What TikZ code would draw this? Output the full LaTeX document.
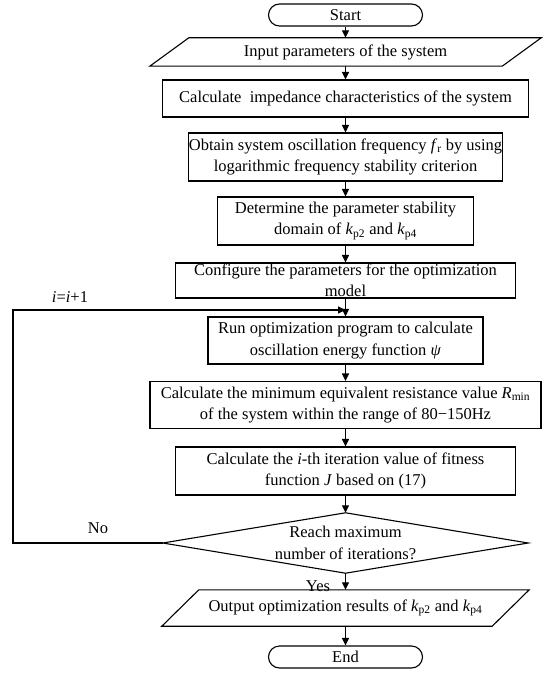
\documentclass[tikz,border=0pt]{standalone}
\usepackage{fontspec}
\setmainfont{Liberation Serif}
\usetikzlibrary{arrows.meta,calc}
\begin{document}
\begin{tikzpicture}[x=1pt,y=1pt,
  every node/.style={font=\fontsize{16.5}{21.5}\selectfont},
  box/.style={draw, line width=1.1pt, inner sep=0pt, align=center},
  ghost/.style={inner sep=0pt, align=center},
  term/.style={box, rounded corners=11pt},
  arr/.style={line width=1.1pt, -{Triangle[length=7.5pt,width=7pt]}},
  lbl/.style={inner sep=0pt},
  outline/.style={line width=1.1pt}]
\useasboundingbox[fill=white] (0,0) rectangle (550,-677);

\node[term, minimum width=154pt, minimum height=22pt] (start) at (345.5,-15) {Start};
\node[ghost, minimum width=352pt, minimum height=28pt] (in) at (345.5,-52) {Input parameters of the system};
\draw[outline] ($(in.south west)+(-19.5,0)$) -- ($(in.north west)+(19.5,0)$) -- ($(in.north east)+(19.5,0)$) -- ($(in.south east)+(-19.5,0)$) -- cycle;
\node[box, minimum width=366pt, minimum height=37pt] (imp) at (345.5,-98.5) {Calculate~ impedance characteristics of the system};
\node[box, minimum width=310pt, minimum height=48pt] (obt) at (345.5,-157) {Obtain system oscillation frequency \textit{f}\textsubscript{r} by using\\logarithmic frequency stability criterion};
\node[box, minimum width=256pt, minimum height=48pt] (det) at (345.5,-221) {Determine the parameter stability\\domain of \textit{k}\textsubscript{p2} and \textit{k}\textsubscript{p4}};
\node[box, minimum width=340pt, minimum height=35pt] (cfg) at (345.5,-280.5) {Configure the parameters for the optimization\\model};
\node[box, minimum width=275pt, minimum height=47pt] (run) at (345.5,-340.5) {Run optimization program to calculate\\oscillation energy function \textit{ψ}};
\node[box, minimum width=391pt, minimum height=47pt] (rmin) at (345.5,-405) {Calculate the minimum equivalent resistance value \textit{R}\textsubscript{min}\\of the system within the range of 80−150Hz};
\node[box, minimum width=340pt, minimum height=48pt] (ith) at (345.5,-471) {Calculate the \textit{i}-th iteration value of fitness\\function \textit{J} based on (17)};
\node[ghost, minimum width=365pt, minimum height=60pt] (dia) at (345.5,-543) {Reach maximum\\number of iterations?};
\draw[outline] (dia.north) -- (dia.east) -- (dia.south) -- (dia.west) -- cycle;
\node[ghost, minimum width=330pt, minimum height=36pt] (out) at (345.5,-608) {Output optimization results of \textit{k}\textsubscript{p2} and \textit{k}\textsubscript{p4}};
\draw[outline] ($(out.south west)+(-18.5,0)$) -- ($(out.north west)+(18.5,0)$) -- ($(out.north east)+(18.5,0)$) -- ($(out.south east)+(-18.5,0)$) -- cycle;
\node[term, minimum width=154pt, minimum height=22pt] (end) at (345.5,-657) {End};

\draw[arr] (start.south) -- (in.north);
\draw[arr] (in.south) -- (imp.north);
\draw[arr] (imp.south) -- (obt.north);
\draw[arr] (obt.south) -- (det.north);
\draw[arr] (det.south) -- (cfg.north);
\draw[arr] (cfg.south) -- (run.north);
\draw[arr] (run.south) -- (rmin.north);
\draw[arr] (rmin.south) -- (ith.north);
\draw[arr] (ith.south) -- (dia.north);
\draw[arr] (dia.south) -- (out.north);
\draw[arr] (out.south) -- (end.north);

\coordinate (lb) at (13,-543);
\coordinate (lt) at (13,-310);
\coordinate (jn) at (cfg.south |- lt);
\draw[arr] (dia.west) -- (lb) -- (lt) -- (jn);

\node[lbl] (inc) at (70,-297) {\textit{i}=\textit{i}+1};
\node[lbl] (no) at (98,-528) {No};
\node[lbl] (yes) at (318,-586) {Yes};
\end{tikzpicture}
\end{document}
